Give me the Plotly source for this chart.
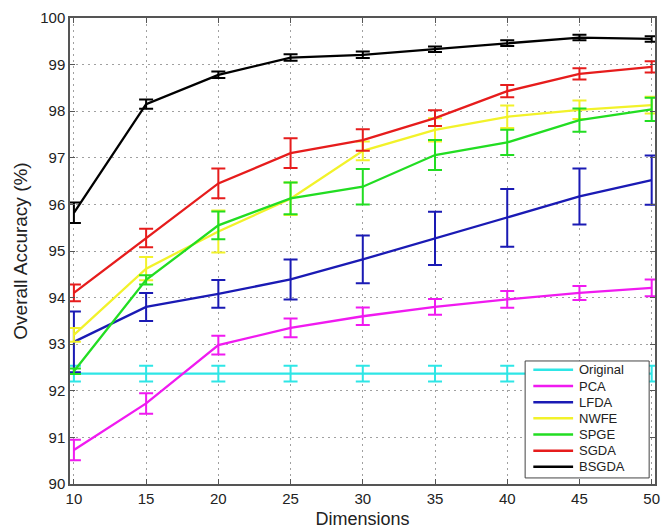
import plotly.graph_objects as go

dims = [10, 15, 20, 25, 30, 35, 40, 45, 50]

methods = ["Original", "PCA", "LFDA", "NWFE", "SPGE", "SGDA", "BSGDA"]
colors = ["#2ee6e6", "#f01af0", "#1a1ab4", "#f2f22a", "#22dd22", "#e61c1c", "#000000"]

acc_original = [92.37, 92.37, 92.37, 92.37, 92.37, 92.37, 92.37, 92.37, 92.37]
err_original = [0.17, 0.17, 0.17, 0.17, 0.17, 0.17, 0.17, 0.17, 0.17]

acc_pca = [90.73, 91.73, 92.98, 93.35, 93.6, 93.8, 93.96, 94.1, 94.21]
err_pca = [0.22, 0.22, 0.2, 0.2, 0.19, 0.17, 0.18, 0.15, 0.18]

acc_lfda = [93.05, 93.8, 94.08, 94.39, 94.82, 95.27, 95.71, 96.17, 96.52]
err_lfda = [0.65, 0.3, 0.3, 0.43, 0.51, 0.57, 0.62, 0.6, 0.53]

acc_nwfe = [93.2, 94.62, 95.42, 96.12, 97.15, 97.6, 97.88, 98.03, 98.13]
err_nwfe = [0.15, 0.25, 0.45, 0.35, 0.2, 0.25, 0.24, 0.2, 0.18]

acc_spge = [92.42, 94.38, 95.55, 96.13, 96.38, 97.06, 97.33, 97.81, 98.04]
err_spge = [0.06, 0.1, 0.3, 0.34, 0.38, 0.32, 0.27, 0.25, 0.25]

acc_sgda = [94.1, 95.28, 96.45, 97.1, 97.38, 97.85, 98.43, 98.8, 98.95]
err_sgda = [0.18, 0.2, 0.32, 0.32, 0.23, 0.17, 0.13, 0.12, 0.12]

acc_bsgda = [95.82, 98.15, 98.78, 99.15, 99.21, 99.33, 99.46, 99.58, 99.55]
err_bsgda = [0.22, 0.1, 0.07, 0.07, 0.07, 0.06, 0.06, 0.06, 0.06]

series = [
    (acc_original, err_original),
    (acc_pca, err_pca),
    (acc_lfda, err_lfda),
    (acc_nwfe, err_nwfe),
    (acc_spge, err_spge),
    (acc_sgda, err_sgda),
    (acc_bsgda, err_bsgda),
]

FONT = "Liberation Sans, Arial, Helvetica, sans-serif"
TEXT = "#222222"

fig = go.Figure()
for name, color, (acc, err) in zip(methods, colors, series):
    fig.add_trace(go.Scatter(
        x=dims, y=acc, name=name, mode="lines", showlegend=False,
        line=dict(color=color, width=2.3),
        error_y=dict(type="data", array=err, visible=True,
                     color=color, thickness=2, width=7),
    ))

axis_common = dict(
    showline=True, linecolor="#555555", linewidth=1.5, mirror="allticks",
    ticks="inside", ticklen=5, tickwidth=1, tickcolor="#555555",
    showgrid=True, gridcolor="#a0a0a0", gridwidth=1, griddash="2px,4px",
    zeroline=False, ticklabeloverflow="allow",
    tickfont=dict(family=FONT, size=15, color=TEXT),
)

fig.update_xaxes(
    range=[9.73, 50.23], tickvals=dims, ticktext=[str(d) for d in dims],
    title=dict(text="Dimensions", standoff=8, font=dict(family=FONT, size=18, color=TEXT)),
    **axis_common,
)
fig.update_yaxes(
    range=[90, 100], tickvals=list(range(90, 101)),
    title=dict(text="Overall Accuracy (%)", standoff=8, font=dict(family=FONT, size=19, color=TEXT)),
    **axis_common,
)

# Boxed legend in the lower-right corner of the axes (paper coordinates)
box_x0, box_x1 = 0.778, 0.990
box_y0, box_y1 = 0.013, 0.264
row_top, row_step = 0.245, 0.0347
sample_x0, sample_x1, label_x = 0.792, 0.860, 0.867

shapes = [dict(type="rect", xref="paper", yref="paper",
               x0=box_x0, x1=box_x1, y0=box_y0, y1=box_y1,
               line=dict(color="#444444", width=1), fillcolor="white", layer="above")]
annotations = []
for i, (name, color) in enumerate(zip(methods, colors)):
    yy = row_top - i * row_step
    shapes.append(dict(type="line", xref="paper", yref="paper",
                       x0=sample_x0, x1=sample_x1, y0=yy, y1=yy,
                       line=dict(color=color, width=2.5), layer="above"))
    annotations.append(dict(xref="paper", yref="paper", x=label_x, y=yy,
                            text=name, showarrow=False, xanchor="left", yanchor="middle",
                            font=dict(family=FONT, size=13, color=TEXT)))

fig.update_layout(
    width=662, height=529,
    margin=dict(l=70, r=2, t=18, b=45),
    paper_bgcolor="white", plot_bgcolor="white",
    showlegend=False,
    shapes=shapes, annotations=annotations,
)

fig.write_html("out.html")
